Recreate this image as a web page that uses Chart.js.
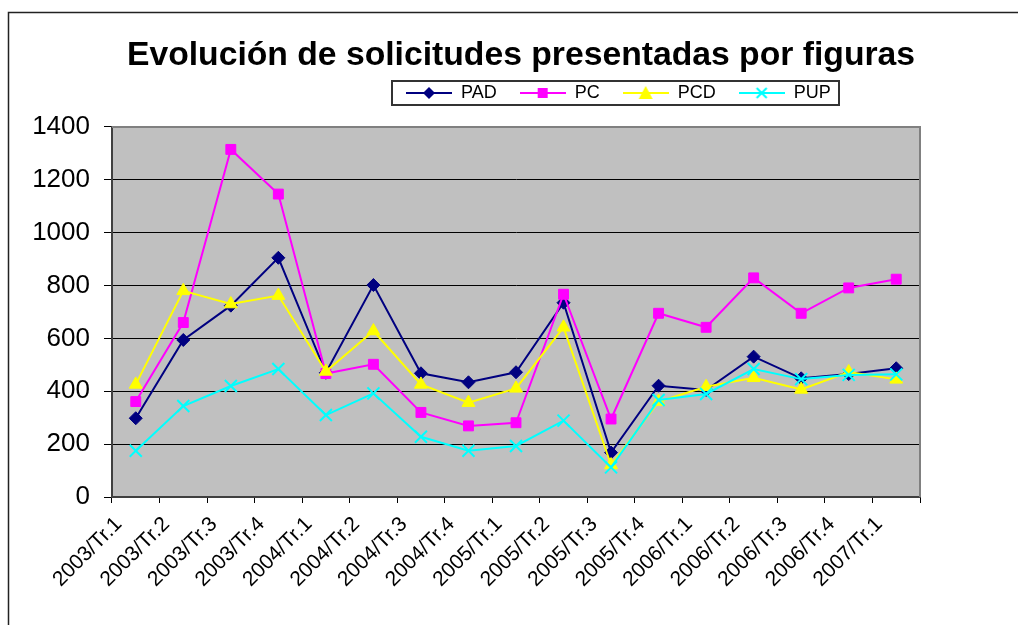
<!DOCTYPE html>
<html>
<head>
<meta charset="utf-8">
<script src="https://cdn.jsdelivr.net/npm/chart.js@4"></script>
<style>
html, body { margin: 0; padding: 0; background: #fff; }
</style>
</head>
<body>
<canvas id="myChart" width="1018" height="625"></canvas>
<script>
// categories (quarters)
var quarters = ['2003/Tr.1', '2003/Tr.2', '2003/Tr.3', '2003/Tr.4', '2004/Tr.1', '2004/Tr.2', '2004/Tr.3', '2004/Tr.4',
  '2005/Tr.1', '2005/Tr.2', '2005/Tr.3', '2005/Tr.4', '2006/Tr.1', '2006/Tr.2', '2006/Tr.3', '2006/Tr.4', '2007/Tr.1'];
// series values
var pad = [298, 594, 724, 905, 470, 802, 468, 434, 472, 735, 168, 421, 405, 531, 449, 465, 487];
var pc = [361, 660, 1315, 1146, 467, 502, 320, 269, 281, 767, 295, 695, 642, 829, 695, 791, 824];
var pcd = [426, 780, 730, 762, 475, 628, 426, 357, 411, 642, 121, 361, 417, 451, 407, 473, 445];
var pup = [175, 344, 420, 484, 310, 392, 228, 175, 193, 289, 112, 367, 390, 484, 446, 462, 464];
// y tick range
var yMin = 0, yMax = 1400, yStep = 200;

var FONT = "Arial, 'Liberation Sans', sans-serif";

//little canvas with the line + marker for the legend
function legendIcon(color, shape) {
  var c = document.createElement('canvas');
  c.width = 46; c.height = 18;
  var g = c.getContext('2d');
  g.strokeStyle = color; g.fillStyle = color; g.lineWidth = 2;
  g.beginPath(); g.moveTo(0, 9); g.lineTo(46, 9); g.stroke();
  g.beginPath();
  if (shape == 'diamond') {
    g.moveTo(23, 3); g.lineTo(29, 9); g.lineTo(23, 15); g.lineTo(17, 9); g.closePath(); g.fill();
  } else if (shape == 'square') {
    g.rect(18, 4, 10, 10); g.fill();
  } else if (shape == 'triangle') {
    g.moveTo(23, 2); g.lineTo(30, 15); g.lineTo(16, 15); g.closePath(); g.fill();
  } else {
    g.moveTo(18, 4); g.lineTo(28, 14); g.moveTo(28, 4); g.lineTo(18, 14); g.stroke();
  }
  return c;
}
var icons = [legendIcon('#000080', 'diamond'), legendIcon('#FF00FF', 'square'),
  legendIcon('#FFFF00', 'triangle'), legendIcon('#00FFFF', 'cross')];

//grey plot area, borders, and moving title/legend where excel had them
var excelLook = {
  id: 'excelLook',
  afterLayout: function(chart) {
    var t = chart.titleBlock, lg = chart.legend;
    t.left = 24; t.right = 1018;
    var w = lg.width, h = lg.height;
    lg.left = 383; lg.right = lg.left + w;
    lg.top = 61; lg.bottom = lg.top + h;
  },
  beforeDraw: function(chart) {
    var a = chart.chartArea, ctx = chart.ctx;
    ctx.save();
    ctx.fillStyle = '#C0C0C0';
    ctx.fillRect(a.left, a.top, a.right - a.left, a.bottom - a.top);
    ctx.restore();
  },
  beforeDatasetsDraw: function(chart) {
    var a = chart.chartArea, ctx = chart.ctx;
    ctx.save();
    ctx.strokeStyle = '#808080'; ctx.lineWidth = 2;
    ctx.beginPath();
    ctx.moveTo(a.left, a.top); ctx.lineTo(a.right, a.top); ctx.lineTo(a.right, a.bottom);
    ctx.stroke();
    ctx.restore();
  },
  afterDraw: function(chart) {
    var ctx = chart.ctx;
    var hb = chart.legend.legendHitBoxes;
    var first = hb[0], last = hb[hb.length - 1];
    ctx.save();
    ctx.strokeStyle = '#333'; ctx.lineWidth = 2;
    var x0 = Math.round(first.left - 14), x1 = Math.round(last.left + last.width + 8);
    ctx.strokeRect(x0, Math.round(first.top - 3), x1 - x0, first.height + 6);
    // outer chart border
    ctx.strokeStyle = '#222'; ctx.lineWidth = 1.5;
    ctx.strokeRect(8.5, 12.5, 1100, 700);
    ctx.restore();
  }
};

function series(label, data, color, style, radius, order, bw) {
  return {
    label: label, data: data, borderColor: color, backgroundColor: color,
    borderWidth: 2, pointStyle: style, pointRadius: radius, pointHoverRadius: radius,
    pointBackgroundColor: color, pointBorderColor: color, pointBorderWidth: bw,
    tension: 0, fill: false, order: order
  };
}

var ctx = document.getElementById('myChart');
var myChart = new Chart(ctx, {
  type: 'line',
  data: {
    labels: quarters,
    datasets: [
      series('PAD', pad, '#000080', 'rectRot', 6.5, 3, 1),
      series('PC', pc, '#FF00FF', 'rect', 7, 2, 1),
      series('PCD', pcd, '#FFFF00', 'triangle', 7.5, 1, 1),
      series('PUP', pup, '#00FFFF', 'crossRot', 8.5, 0, 2)
    ]
  },
  plugins: [excelLook],
  options: {
    responsive: false,
    animation: false,
    maintainAspectRatio: false,
    layout: { padding: { top: 12, left: 0, right: 98, bottom: 0 } },
    plugins: {
      title: {
        display: true,
        text: 'Evolución de solicitudes presentadas por figuras',
        color: '#000',
        font: { family: FONT, size: 33.7, weight: 'bold' },
        padding: { top: 23.5, bottom: 0 }
      },
      legend: {
        display: true,
        align: 'start',
        labels: {
          color: '#000',
          font: { family: FONT, size: 18 },
          usePointStyle: true,
          pointStyleWidth: 46,
          boxHeight: 18,
          padding: 23,
          sort: function(a, b) { return a.datasetIndex - b.datasetIndex; },
          generateLabels: function(chart) {
            var items = Chart.defaults.plugins.legend.labels.generateLabels(chart);
            items.forEach(function(it) { it.pointStyle = icons[it.datasetIndex]; });
            return items;
          }
        }
      },
      tooltip: { enabled: false }
    },
    scales: {
      x: {
        offset: true,
        afterFit: function(s) { s.height = 128; },
        grid: { offset: true, drawOnChartArea: false, drawTicks: true, tickLength: 6, color: '#000' },
        border: { display: true, color: '#404040', width: 2 },
        ticks: { color: '#000', font: { family: FONT, size: 21 }, minRotation: 45, maxRotation: 45, padding: 9, labelOffset: -17, autoSkip: false }
      },
      y: {
        min: yMin, max: yMax,
        afterFit: function(s) { s.width = 112; },
        grid: { color: '#000', lineWidth: 1, tickLength: 8, drawTicks: true },
        border: { display: true, color: '#404040', width: 2 },
        ticks: {
          stepSize: yStep, color: '#000', font: { family: FONT, size: 26 }, padding: 14,
          callback: function(v) { return String(v); }
        }
      }
    }
  }
});
</script>
</body>
</html>
